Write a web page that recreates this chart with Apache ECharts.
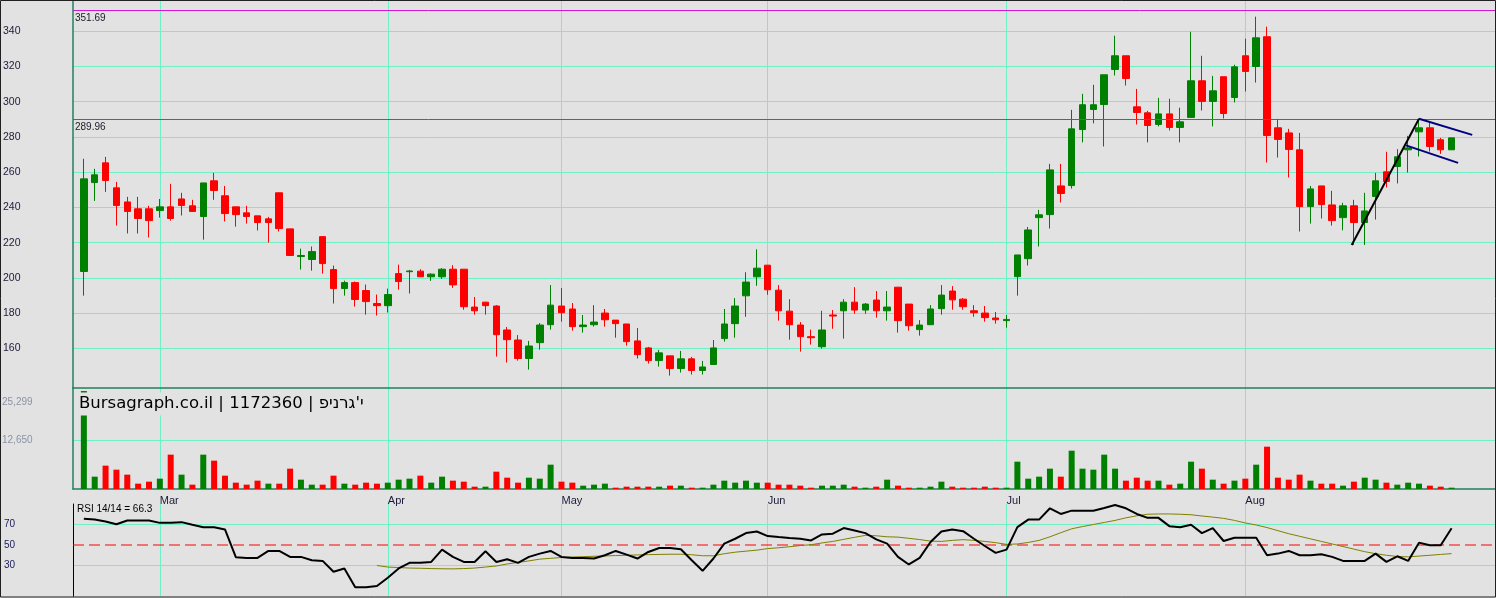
<!DOCTYPE html>
<html>
<head>
<meta charset="utf-8">
<script src="https://cdn.jsdelivr.net/npm/echarts@6/dist/echarts.min.js"></script>
<style>
html,body{margin:0;padding:0;background:#e2e2e2;}
#c{width:1496px;height:598px;}
</style>
</head>
<body>
<div id="c"></div>
<script>
// ---- categories (trading days per month shown) ----
const monthNames = ['Feb','Mar','Apr','May','Jun','Jul','Aug'];
const monthDays  = [7, 21, 16, 19, 22, 22, 20];

// ---- OHLC ----
const open = [
 203.6,254.1,265.3,251.1,243.1,239.2,239.2,238.2,240.3,244.8,
 240.9,234.8,255.1,246.6,240.3,236.9,235.2,233.5,248.3,227.8,
 212.1,210.4,223.4,204.7,193.9,197.3,192.8,185.4,184.2,202.4,
 203.5,203.8,200.6,200.6,204.9,204.9,183.4,186.2,184.0,170.4,
 164.7,154.2,163.2,173.4,184.0,182.3,172.3,173.4,180.0,176.0,
 173.8,164.2,160.2,153.0,155.7,148.5,154.0,147.4,150.8,165.5,
 174.0,189.8,200.6,207.2,193.0,181.1,173.2,166.6,160.9,178.9,
 181.3,186.2,181.7,187.4,181.3,194.7,185.1,170.6,173.4,182.5,
 192.5,187.9,181.3,180.0,177.2,175.7,200.7,210.9,234.2,235.9,
 252.2,252.4,284.2,295.6,298.4,318.3,326.1,297.1,293.7,287.1,
 293.1,285.4,291.1,311.9,300.2,314.2,302.4,326.1,320.0,336.9,
 285.2,282.3,272.7,240.5,252.2,241.4,234.2,240.9,231.4,246.2,
 260.2,263.2,272.7,282.9,285.2,278.4,272.7
];
const close = [
 256.2,258.5,255.3,241.1,237.7,233.7,232.5,240.3,233.7,241.1,
 237.7,253.9,249.6,236.5,235.9,234.8,231.4,231.4,228.0,212.7,
 212.7,214.9,208.1,193.9,197.3,187.7,186.5,184.2,190.5,197.9,
 203.9,200.6,202.1,204.9,196.0,183.6,181.3,184.2,167.7,164.9,
 154.2,161.3,173.2,184.5,180.2,172.3,173.2,174.9,176.2,174.0,
 163.8,156.4,153.0,157.4,148.5,154.0,147.4,149.4,160.2,173.8,
 184.0,197.6,205.5,193.2,181.3,173.4,166.6,166.0,170.4,178.3,
 186.2,181.7,185.1,181.3,183.4,175.7,172.8,173.2,182.3,190.2,
 187.5,183.6,180.2,177.4,176.2,176.4,213.0,227.2,235.8,261.3,
 247.9,284.6,298.3,298.3,315.3,326.1,313.2,293.9,286.5,293.1,
 285.4,288.6,311.9,300.2,306.2,293.3,319.8,317.2,336.3,280.8,
 278.6,272.9,240.5,250.5,241.6,232.5,240.9,231.4,238.0,255.1,
 254.7,268.7,273.8,285.2,274.6,272.7,279.5
];
const low = [
 189.9,243.7,248.8,229.7,225.2,225.2,222.9,234.2,232.5,235.4,
 237.7,221.7,244.3,232.0,229.1,230.8,226.9,220.0,226.3,212.7,
 204.7,204.1,202.4,185.4,189.9,183.7,179.1,178.6,180.3,193.3,
 191.1,200.6,198.3,199.4,194.3,181.9,179.1,179.1,155.3,151.9,
 153.0,147.9,159.2,170.6,175.1,170.0,168.9,172.3,172.3,166.0,
 161.5,154.2,151.3,149.6,144.5,146.2,145.1,145.1,150.8,163.8,
 166.0,177.9,195.5,190.4,175.7,164.9,158.1,162.1,159.8,171.1,
 165.5,179.6,179.6,177.4,175.7,168.9,170.0,167.2,173.4,179.1,
 181.9,181.9,177.9,175.1,174.0,171.7,189.9,207.0,217.8,228.0,
 242.8,250.7,276.9,287.7,274.6,314.9,309.2,287.1,276.9,286.0,
 283.7,276.9,291.1,295.0,286.0,290.5,299.6,305.8,310.9,265.5,
 268.3,257.0,226.3,230.8,233.7,229.7,227.0,218.7,218.7,233.1,
 251.3,253.6,259.8,268.9,271.7,270.4,272.7
];
const high = [
 267.6,261.9,268.7,254.5,246.0,246.0,240.9,244.8,253.4,248.3,
 244.3,253.9,259.6,252.2,240.3,240.9,235.2,234.6,248.3,227.8,
 216.6,217.8,223.4,207.0,198.4,197.9,196.2,190.5,193.9,207.5,
 204.5,204.9,202.6,205.5,207.2,204.9,189.1,186.2,184.5,172.1,
 167.5,164.2,174.3,195.9,194.2,185.7,178.9,184.5,182.3,176.0,
 173.8,171.5,160.8,159.1,155.7,158.5,155.1,152.8,164.7,182.3,
 188.5,203.2,216.2,207.2,195.9,187.9,174.9,170.6,181.3,181.7,
 187.9,194.7,185.7,192.5,192.5,194.7,185.1,176.0,184.5,195.9,
 195.3,188.5,184.5,184.0,180.6,178.9,213.0,228.9,238.6,264.7,
 264.7,295.4,304.5,309.6,315.3,337.5,326.1,307.3,294.8,302.2,
 301.7,296.6,339.7,326.1,314.7,314.2,321.0,335.8,348.3,342.6,
 290.3,284.6,282.3,252.2,252.2,249.4,242.6,244.3,248.3,259.6,
 271.6,273.1,280.6,290.3,288.6,279.5,279.5
];

// ---- volume ----
const volume = [
 25299,3184,6024,4990,3700,1377,1893,2668,8863,3700,
 1119,8863,7314,3442,1635,1119,2151,1377,1377,5249,
 2409,1119,1119,3442,1377,1119,1635,1377,1635,2409,
 2668,3442,1635,3184,2151,1893,602,602,4474,2924,
 1635,2924,2668,6278,1893,1635,860,1119,1377,344,
 602,602,602,602,860,860,344,344,1119,2151,
 1635,2151,1635,1635,1119,1119,860,344,860,860,
 1119,602,344,602,2409,860,344,344,602,1893,
 602,344,344,602,344,344,7052,2668,3184,5249,
 3184,9890,5249,4990,8863,5249,2151,2924,2151,2151,
 1119,1377,7052,5249,2409,1377,2151,2668,6278,10922,
 2924,2409,3700,2151,1377,1377,860,1893,2924,2409,
 1635,1119,1635,1377,860,602,344
];

// ---- RSI 14 and its signal (signal starts at day 27) ----
const rsi = [
 75.5,74.8,72.9,70.3,73.9,73.9,73.9,71.6,71.6,72.3,
 69.7,67.4,67.4,65.2,38.1,37.4,37.4,44.2,44.2,38.4,
 38.4,35.2,34.5,23.9,27.1,8.7,8.7,10.0,18.1,27.1,
 32.6,32.6,33.5,45.5,38.4,33.5,33.5,43.9,33.5,36.1,
 32.6,38.4,41.6,44.2,38.4,37.4,37.4,36.8,40.0,44.2,
 40.6,36.8,43.2,47.1,47.1,45.8,35.2,24.8,36.8,51.3,
 56.1,61.6,63.2,58.7,57.7,56.8,56.1,54.5,60.3,61.0,
 66.5,64.2,61.6,55.5,51.3,38.4,31.0,37.4,52.9,63.2,
 65.2,63.5,56.1,49.0,42.3,45.5,67.4,74.8,74.8,85.8,
 80.3,83.5,83.5,83.5,86.1,89.0,85.8,80.3,76.5,76.5,
 68.4,67.4,69.7,61.6,66.5,53.9,57.1,57.1,57.1,40.0,
 41.6,44.2,40.0,40.0,41.0,38.4,34.5,34.5,34.5,41.6,
 33.5,39.0,34.5,52.3,49.7,49.7,66.3
];
const rsiSignalStart = 27;
const rsiSignal = [
 30,28.5,28,27.5,27.3,27,26.8,26.7,27,27.5,
 28.5,29.5,31.5,33,34.5,36.2,37,37.8,38.3,38.6,
 39,39.3,39.7,40,40.3,40.6,40.8,41,41,40.5,
 39.5,39.5,41.5,43,44,45,46.5,47.3,48.3,49.5,
 50.3,52,53.5,55.5,57.5,59.4,59,58,57.7,56.5,
 55.3,53.8,53.5,54.5,55.2,54.5,53.5,52.3,50.6,51,
 52.5,54.5,58,62,65.8,68,70,72,74,76.5,
 78.5,80,80.3,80.3,80,79.5,78.3,77.2,76,74,
 71.5,69.5,67,64,61,58.5,56,53.5,51,48.5,
 46,43.5,41.5,40,38.8,38.4,39.2,40,40.8,41.6
];

// ---- ticks / levels / drawn lines (day index, price) ----
const priceTicks = [160,180,200,220,240,260,280,300,320,340];
const volumeTicks = [12650];
const volumeLabels = [12650, 25299];
const rsiGridTicks = [30, 70];
const rsiLabels = [30, 50, 70];
const rsiMidLevel = 50;
const priceLevels = [351.69, 289.96];
const trendUp   = [[116.8, 218.7], [123.0, 290.3]];
const flagUpper = [[123.0, 290.3], [127.9, 281.2]];
const flagLower = [[121.8, 275.2], [126.6, 265.3]];

// ---- build category axis ----
const PAD_LEFT = 1, PAD_RIGHT = 4;
const categories = ['start'];
const monthStartCat = new Set();
monthNames.forEach((m, mi) => {
  for (let d = 1; d <= monthDays[mi]; d++) {
    if (d === 1 && mi > 0) monthStartCat.add(categories.length);
    categories.push(m + ' ' + d);
  }
});
for (let k = 1; k <= PAD_RIGHT; k++) categories.push('end' + k);
const monthFn = (idx) => monthStartCat.has(idx);

const UP = '#008000', DOWN = '#ff0000';
const GRIDC = '#6ff0c6', AXISC = '#23805f';
const FONT = '"Liberation Sans", Arial, sans-serif';

const candleData = open.map((o, i) => [i + PAD_LEFT, o, close[i], low[i], high[i]]);
const volData = volume.map((v, i) => ({
  value: [i + PAD_LEFT, v],
  itemStyle: { color: (i === 0 || close[i] >= close[i - 1]) ? UP : DOWN }
}));
const rsiData = rsi.map((r, i) => [i + PAD_LEFT, r]);
const sigData = rsiSignal.map((r, i) => [i + rsiSignalStart + PAD_LEFT, r]);
const midData = [[0, rsiMidLevel], [categories.length - 1, rsiMidLevel]];
const shift = pts => pts.map(p => [p[0] + PAD_LEFT, p[1]]);

function catAxis(gridIndex, extra) {
  return Object.assign({
    type: 'category', gridIndex, data: categories, boundaryGap: false,
    axisTick: { show: false }, axisLabel: { show: false },
    axisLine: { show: true, lineStyle: { color: AXISC, width: 1.5 } },
    splitLine: { show: true, interval: monthFn, lineStyle: { color: GRIDC, width: 1 } }
  }, extra);
}

const chart = echarts.init(document.getElementById('c'), null, { renderer: 'canvas' });
chart.setOption({
  animation: false,
  backgroundColor: '#e2e2e2',
  grid: [
    { left: 73, top: 1, width: 1422, height: 387, outerBoundsMode: 'none' },
    { left: 73, top: 388, width: 1422, height: 101, outerBoundsMode: 'none' },
    { left: 73, top: 504, width: 1422, height: 92.25, outerBoundsMode: 'none' }
  ],
  xAxis: [
    catAxis(0),
    catAxis(1, { axisLabel: { show: true, interval: monthFn, formatter: v => v.split(' ')[0],
      align: 'left', margin: 6, color: '#1a1a3a', fontSize: 11, fontFamily: FONT } }),
    catAxis(2, { axisLine: { show: false } }),
    { type: 'value', gridIndex: 0, min: 0, max: categories.length - 1, show: false,
      splitLine: { show: false } },
    { type: 'value', gridIndex: 2, min: 0, max: categories.length - 1, show: false,
      splitLine: { show: false } }
  ],
  yAxis: [
    { type: 'value', gridIndex: 0, min: 137.45, max: 357.2,
      axisLine: { show: true, lineStyle: { color: AXISC, width: 1.5 } },
      axisTick: { show: false, customValues: priceTicks },
      axisLabel: { customValues: priceTicks, align: 'left', margin: 70, color: '#1b1b3a', fontSize: 10.5, fontFamily: FONT },
      splitLine: { show: true, lineStyle: { color: GRIDC, width: 1 } } },
    { type: 'value', gridIndex: 1, min: 0, max: 26070,
      axisLine: { show: true, lineStyle: { color: AXISC, width: 1.5 } },
      axisTick: { show: false, customValues: volumeTicks },
      axisLabel: { customValues: volumeLabels, align: 'left', margin: 71, color: '#8a94a6', fontSize: 10, fontFamily: FONT,
        formatter: v => v === 25299 ? '{t|25,299}' : v.toLocaleString('en-US'),
        rich: { t: { padding: [22, 0, 0, 0], color: '#8a94a6', fontSize: 10, fontFamily: FONT } } },
      splitLine: { show: true, lineStyle: { color: GRIDC, width: 1 } } },
    { type: 'value', gridIndex: 2, min: 0, max: 90,
      axisLine: { show: true, lineStyle: { color: '#000', width: 1 } },
      axisTick: { show: false, customValues: rsiGridTicks },
      axisLabel: { customValues: rsiLabels, align: 'left', margin: 69, color: '#1b1b5a', fontSize: 10, fontFamily: FONT },
      splitLine: { show: true, lineStyle: { color: GRIDC, width: 1 } } }
  ],
  series: [
    { type: 'candlestick', xAxisIndex: 0, yAxisIndex: 0, data: candleData,
      encode: { x: 0, y: [1, 2, 3, 4] }, barWidth: 7,
      itemStyle: { color: UP, color0: DOWN, borderColor: UP, borderColor0: DOWN, borderWidth: 1 },
      markLine: { silent: true, symbol: 'none', animation: false,
        lineStyle: { color: '#d414d4', width: 1, type: 'solid' },
        label: { show: true, position: 'insideStartBottom', formatter: '{c}', color: '#1a1a2a', fontSize: 10, fontFamily: FONT, distance: [2, 3] },
        data: priceLevels.map(v => ({ yAxis: v })) } },
    { type: 'line', xAxisIndex: 3, yAxisIndex: 0, data: shift(trendUp), symbol: 'none',
      lineStyle: { color: '#000', width: 2 }, z: 5 },
    { type: 'line', xAxisIndex: 3, yAxisIndex: 0, data: shift(flagUpper), symbol: 'none',
      lineStyle: { color: '#000080', width: 2 }, z: 5 },
    { type: 'line', xAxisIndex: 3, yAxisIndex: 0, data: shift(flagLower), symbol: 'none',
      lineStyle: { color: '#000080', width: 2 }, z: 5 },
    { type: 'bar', xAxisIndex: 1, yAxisIndex: 1, data: volData, barWidth: 6 },
    { type: 'line', xAxisIndex: 4, yAxisIndex: 2, data: midData, symbol: 'none', silent: true,
      lineStyle: { color: '#ff0000', width: 1, type: [11, 5] }, z: 1 },
    { type: 'line', xAxisIndex: 2, yAxisIndex: 2, data: sigData, symbol: 'none',
      lineStyle: { color: '#808000', width: 1 }, z: 2 },
    { type: 'line', xAxisIndex: 2, yAxisIndex: 2, data: rsiData, symbol: 'none',
      lineStyle: { color: '#000', width: 2 }, z: 4 }
  ],
  graphic: [
    { type: 'text', left: 76, top: 392.5, z: 100,
      style: { text: "Bursagraph.co.il | 1172360 | \u202Dפינרג'י\u202C", fontSize: 16.5, fontFamily: '"DejaVu Sans", sans-serif',
        fill: '#000', backgroundColor: '#e2e2e2', padding: [3, 3, 3, 3] } },
    { type: 'text', left: 77, top: 504.5, z: 100,
      style: { text: 'RSI 14/14 = 66.3', fontSize: 10, fontFamily: FONT, fill: '#000' } },
    { type: 'rect', z: 200, silent: true,
      shape: { x: 0.5, y: 0.5, width: 1495, height: 596.5 },
      style: { fill: 'none', stroke: '#202020', lineWidth: 1 } }
  ]
});
</script>
</body>
</html>
